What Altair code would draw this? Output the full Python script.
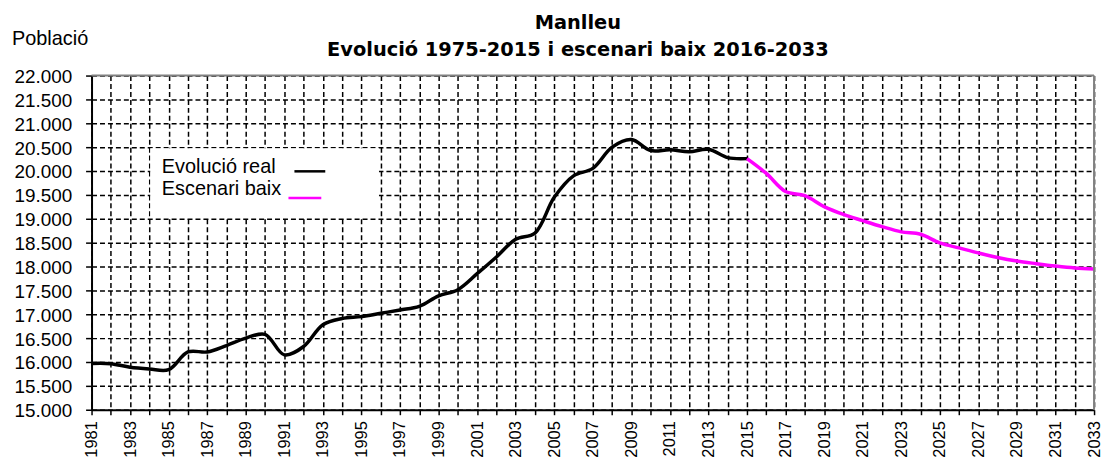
import altair as alt
import pandas as pd

# ---- data ----
years_real = list(range(1981, 2016))
pop_real = [15970, 15965, 15890, 15855, 15840, 16210, 16210, 16345, 16500, 16580,
            16150, 16325, 16780, 16910, 16950, 17020, 17090, 17165, 17385, 17515,
            17850, 18200, 18570, 18700, 19450, 19900, 20055, 20500, 20660, 20430,
            20445, 20405, 20455, 20280, 20260]

years_low = list(range(2015, 2034))
pop_low = [20260, 19950, 19570, 19485, 19255, 19090, 18960, 18835, 18725, 18675,
           18495, 18390, 18285, 18190, 18115, 18060, 18010, 17970, 17950]

series_names = ["Evolució real", "Escenari baix"]
series_colors = ["#000000", "#FF00FF"]

title_lines = ["Manlleu", "Evolució 1975-2015 i escenari baix 2016-2033"]
y_title = "Població"

y_ticks = list(range(15000, 22001, 500))
x_ticks = list(range(1981, 2034))

W, H = 1008, 336

df = pd.concat([
    pd.DataFrame({"year": years_real, "pop": pop_real, "series": series_names[0]}),
    pd.DataFrame({"year": years_low, "pop": pop_low, "series": series_names[1]}),
], ignore_index=True)
one = pd.DataFrame({"k": [0]})

FONT = "Liberation Sans"

x_enc = alt.X(
    "year:Q",
    scale=alt.Scale(domain=[1981, 2033], nice=False, zero=False),
    axis=alt.Axis(
        values=x_ticks,
        labelExpr="datum.value % 2 == 1 ? toString(datum.value) : ''",
        labelAngle=270, labelAlign="right", labelBaseline="middle",
        labelFont=FONT, labelFontSize=16.5, labelColor="black",
        labelPadding=6, labelOverlap=False, labelFlush=False,
        tickSize=5, tickColor="black", tickWidth=1.5,
        domainColor="black", domainWidth=2,
        grid=True, gridColor="black", gridDash=[5, 3], gridWidth=1.5,
        title=None,
    ),
)
y_enc = alt.Y(
    "pop:Q",
    scale=alt.Scale(domain=[15000, 22000], nice=False, zero=False),
    axis=alt.Axis(
        values=y_ticks,
        labelExpr="replace(format(datum.value, ','), ',', '.')",
        labelFont=FONT, labelFontSize=19, labelColor="black",
        labelPadding=14, labelOverlap=False, labelFlush=False, labelOffset=1,
        tickSize=6, tickColor="black", tickWidth=1.5,
        domainColor="black", domainWidth=2,
        grid=True, gridColor="black", gridDash=[5, 3], gridWidth=1.5,
        title=None,
    ),
)

lines = alt.Chart(df).mark_line(strokeWidth=3.5, interpolate="catmull-rom").encode(
    x=x_enc,
    y=y_enc,
    color=alt.Color("series:N", scale=alt.Scale(domain=series_names, range=series_colors),
                    legend=None),
)

# legend box (white, hides grid)
legend_box = alt.Chart(one).mark_rect(fill="white").encode(
    x=alt.value(59), x2=alt.value(289), y=alt.value(73), y2=alt.value(143)
)

# top and right border (gray)
top_border = alt.Chart(one).mark_rule(color="#808080", strokeWidth=2).encode(
    x=alt.value(0), x2=alt.value(W), y=alt.value(0)
)
right_border = alt.Chart(one).mark_rule(color="#808080", strokeWidth=2).encode(
    x=alt.value(W), y=alt.value(0), y2=alt.value(H)
)

leg_text1 = alt.Chart(one).mark_text(
    font=FONT, fontSize=20, align="left", baseline="alphabetic", color="black"
).encode(x=alt.value(70.7), y=alt.value(97.6), text=alt.value(series_names[0]))
leg_text2 = alt.Chart(one).mark_text(
    font=FONT, fontSize=20, align="left", baseline="alphabetic", color="black"
).encode(x=alt.value(70.7), y=alt.value(120.3), text=alt.value(series_names[1]))
leg_line1 = alt.Chart(one).mark_rule(color=series_colors[0], strokeWidth=2.5).encode(
    x=alt.value(204), x2=alt.value(235), y=alt.value(96.3)
)
leg_line2 = alt.Chart(one).mark_rule(color=series_colors[1], strokeWidth=2.5).encode(
    x=alt.value(198), x2=alt.value(231), y=alt.value(123)
)

title1 = alt.Chart(one).mark_text(
    font="DejaVu Sans", fontSize=19.5, fontWeight="bold", align="center",
    baseline="alphabetic", color="black"
).encode(x=alt.value(489), y=alt.value(-46.7), text=alt.value(title_lines[0]))
title2 = alt.Chart(one).mark_text(
    font="DejaVu Sans", fontSize=19.5, fontWeight="bold", align="center",
    baseline="alphabetic", color="black"
).encode(x=alt.value(489), y=alt.value(-19.7), text=alt.value(title_lines[1]))
ytitle = alt.Chart(one).mark_text(
    font=FONT, fontSize=20, align="left", baseline="alphabetic", color="black"
).encode(x=alt.value(-80), y=alt.value(-30.7), text=alt.value(y_title))

chart = alt.layer(
    legend_box, lines, top_border, right_border,
    leg_text1, leg_text2, leg_line1, leg_line2, title1, title2, ytitle,
).properties(
    width=W, height=H,
    padding={"left": 84, "top": 66.7, "right": 10, "bottom": 50},
    autosize=alt.AutoSizeParams(type="none"),
).configure_view(strokeWidth=0)

chart.save("out.html", embed_options={"renderer": "svg", "actions": False})
